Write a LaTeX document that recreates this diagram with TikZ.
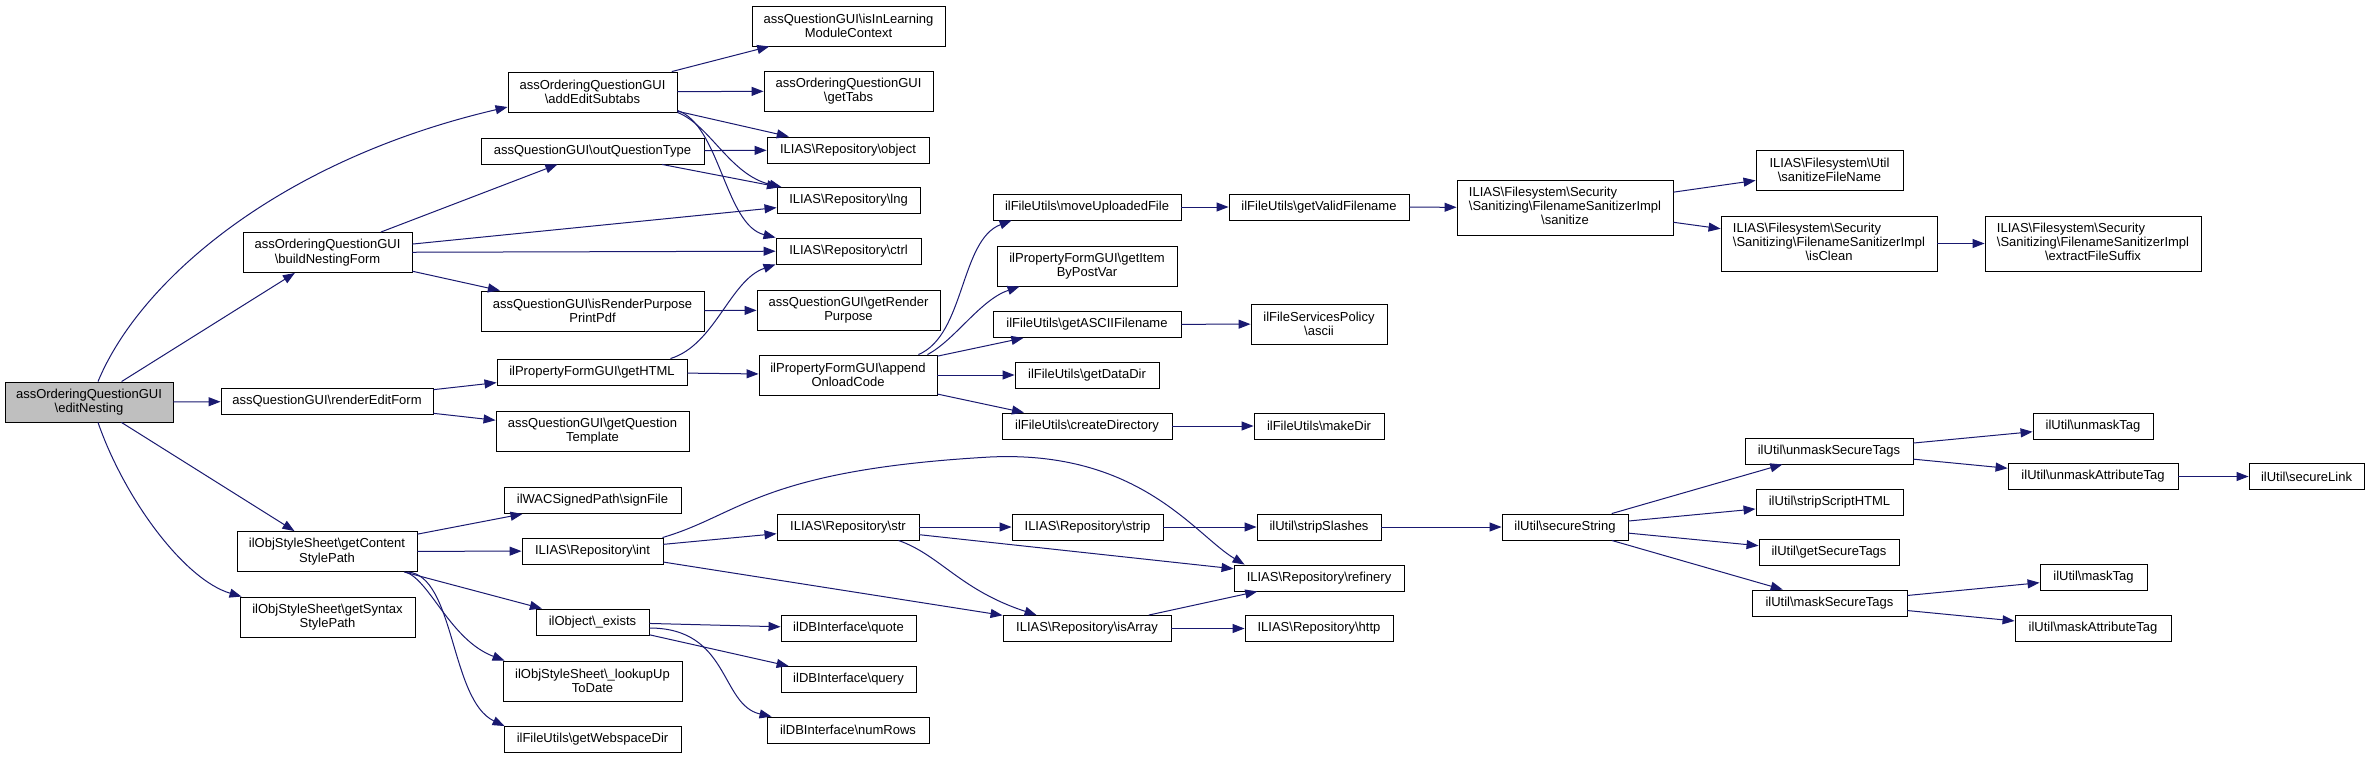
\documentclass[tikz,border=0pt]{standalone}
\usepackage{fontspec}
\setmainfont{Liberation Sans}
\usetikzlibrary{arrows.meta,calc}
\newcommand{\bks}{\textbackslash}
\definecolor{edgeblue}{HTML}{191970}
\begin{document}
\begin{tikzpicture}[x=1pt,y=-1pt,
  fn/.style={draw=black, line width=0.9pt, inner sep=0pt, align=center, fill=white,
    font=\fontsize{13}{14.3}\selectfont},
  wh/.style 2 args={minimum width=#1pt, minimum height=#2pt},
  e/.style={draw=edgeblue, line width=1pt, -{Triangle[length=12pt,width=9pt]}}]
\useasboundingbox[fill=white] (0,0) rectangle (2369,758);
% column 0
\node[fn, fill=gray!50, wh={168}{40}] (en) at (89,402) {assOrderingQuestionGUI\\\bks editNesting};
% column 1
\node[fn, wh={169}{40}] (bnf) at (327.5,252.5) {assOrderingQuestionGUI\\\bks buildNestingForm};
\node[fn, wh={212}{26}] (ref) at (327,401.5) {assQuestionGUI\bks renderEditForm};
\node[fn, wh={180}{40}] (gcsp) at (327,551.5) {ilObjStyleSheet\bks getContent\\StylePath};
\node[fn, wh={175}{40}] (gssp) at (327.5,617) {ilObjStyleSheet\bks getSyntax\\StylePath};
% column 2
\node[fn, wh={169}{40}] (aes) at (592.5,92) {assOrderingQuestionGUI\\\bks addEditSubtabs};
\node[fn, wh={223}{26}] (oqt) at (592.5,151) {assQuestionGUI\bks outQuestionType};
\node[fn, wh={223}{40}] (irp) at (592.5,311) {assQuestionGUI\bks isRenderPurpose\\PrintPdf};
\node[fn, wh={190}{26}] (ghtml) at (592,372) {ilPropertyFormGUI\bks getHTML};
\node[fn, wh={193}{40}] (gqt) at (592.5,431) {assQuestionGUI\bks getQuestion\\Template};
\node[fn, wh={177}{26}] (sf) at (592.5,500.5) {ilWACSignedPath\bks signFile};
\node[fn, wh={141}{26}] (int) at (592.5,551) {ILIAS\bks Repository\bks int};
\node[fn, wh={113}{26}] (ex) at (592.5,622) {ilObject\bks\_exists};
\node[fn, wh={179}{40}] (lut) at (592.5,681) {ilObjStyleSheet\bks\_lookupUp\\ToDate};
\node[fn, wh={177}{26}] (gwd) at (592.5,739.5) {ilFileUtils\bks getWebspaceDir};
% column 3
\node[fn, wh={193}{40}] (ilm) at (848.5,26) {assQuestionGUI\bks isInLearning\\ModuleContext};
\node[fn, wh={169}{40}] (gt) at (848.5,91) {assOrderingQuestionGUI\\\bks getTabs};
\node[fn, wh={162}{26}] (obj) at (848,150) {ILIAS\bks Repository\bks object};
\node[fn, wh={143}{26}] (lng) at (848.5,200.5) {ILIAS\bks Repository\bks lng};
\node[fn, wh={145}{26}] (ctrl) at (848.5,251) {ILIAS\bks Repository\bks ctrl};
\node[fn, wh={183}{40}] (grp) at (848.5,310) {assQuestionGUI\bks getRender\\Purpose};
\node[fn, wh={178}{40}] (aoc) at (848,375) {ilPropertyFormGUI\bks append\\OnloadCode};
\node[fn, wh={142}{26}] (str) at (848,527) {ILIAS\bks Repository\bks str};
\node[fn, wh={135}{26}] (quote) at (848.5,628.5) {ilDBInterface\bks quote};
\node[fn, wh={135}{26}] (query) at (848.5,679.5) {ilDBInterface\bks query};
\node[fn, wh={162}{26}] (nr) at (848,730) {ilDBInterface\bks numRows};
% column 4
\node[fn, wh={188}{26}] (muf) at (1087,207) {ilFileUtils\bks moveUploadedFile};
\node[fn, wh={180}{40}] (gibpv) at (1087,266) {ilPropertyFormGUI\bks getItem\\ByPostVar};
\node[fn, wh={188}{26}] (gaf) at (1087,324.5) {ilFileUtils\bks getASCIIFilename};
\node[fn, wh={144}{26}] (gdd) at (1087,375) {ilFileUtils\bks getDataDir};
\node[fn, wh={170}{26}] (cd) at (1087,426) {ilFileUtils\bks createDirectory};
\node[fn, wh={151}{26}] (strip) at (1087.5,527) {ILIAS\bks Repository\bks strip};
\node[fn, wh={168}{26}] (isarr) at (1087,628.5) {ILIAS\bks Repository\bks isArray};
% column 5
\node[fn, wh={180}{26}] (gvf) at (1319,207) {ilFileUtils\bks getValidFilename};
\node[fn, wh={136}{40}] (ascii) at (1319,324) {ilFileServicesPolicy\\\bks ascii};
\node[fn, wh={130}{26}] (mkd) at (1319,426) {ilFileUtils\bks makeDir};
\node[fn, wh={124}{26}] (ss) at (1319,527) {ilUtil\bks stripSlashes};
\node[fn, wh={170}{26}] (refn) at (1319,578) {ILIAS\bks Repository\bks refinery};
\node[fn, wh={148}{26}] (http) at (1319,628.5) {ILIAS\bks Repository\bks http};
% column 6
\node[fn, wh={216}{55}] (san) at (1565,207.5) {\begin{tabular}{@{}l@{}}ILIAS\bks Filesystem\bks Security\\\bks Sanitizing\bks FilenameSanitizerImpl\\\multicolumn{1}{@{}c@{}}{\bks sanitize}\end{tabular}};
\node[fn, wh={126}{26}] (secs) at (1565,527) {ilUtil\bks secureString};
% column 7
\node[fn, wh={147}{40}] (sfn) at (1829.5,170) {ILIAS\bks Filesystem\bks Util\\\bks sanitizeFileName};
\node[fn, wh={216}{55}] (icl) at (1829,243.5) {\begin{tabular}{@{}l@{}}ILIAS\bks Filesystem\bks Security\\\bks Sanitizing\bks FilenameSanitizerImpl\\\multicolumn{1}{@{}c@{}}{\bks isClean}\end{tabular}};
\node[fn, wh={168}{26}] (ust) at (1829,451) {ilUtil\bks unmaskSecureTags};
\node[fn, wh={147}{26}] (ssh) at (1829.5,502) {ilUtil\bks stripScriptHTML};
\node[fn, wh={140}{26}] (gst) at (1829,552.5) {ilUtil\bks getSecureTags};
\node[fn, wh={155}{26}] (mst) at (1829.5,603) {ilUtil\bks maskSecureTags};
% column 8
\node[fn, wh={216}{55}] (efs) at (2093,243.5) {\begin{tabular}{@{}l@{}}ILIAS\bks Filesystem\bks Security\\\bks Sanitizing\bks FilenameSanitizerImpl\\\multicolumn{1}{@{}c@{}}{\bks extractFileSuffix}\end{tabular}};
\node[fn, wh={120}{26}] (umt) at (2093,426) {ilUtil\bks unmaskTag};
\node[fn, wh={170}{26}] (uat) at (2093,476.5) {ilUtil\bks unmaskAttributeTag};
\node[fn, wh={107}{26}] (mt) at (2093.5,577.5) {ilUtil\bks maskTag};
\node[fn, wh={156}{26}] (mat) at (2093,628.5) {ilUtil\bks maskAttributeTag};
% column 9
\node[fn, wh={115}{26}] (sl) at (2306.5,476.5) {ilUtil\bks secureLink};
% edges
\draw[e] ([xshift=9pt]en.north) .. controls (140,280) and (280,160) .. ([yshift=-15pt]aes.west);
\draw[e] (en) -- (bnf);
\draw[e] (en) -- (ref);
\draw[e] (en) -- (gcsp);
\draw[e] ([xshift=9pt]en.south) .. controls (125,500) and (185,580) .. ([xshift=2pt]gssp.north west);
\draw[e] (aes) -- (ilm);
\draw[e] (aes) -- (gt);
\draw[e] (aes) -- (obj);
\draw[e] (aes.south east) .. controls (710,125) and (730,175) .. ([xshift=5pt]lng.north west);
\draw[e] ([yshift=2pt]aes.south east) .. controls (720,125) and (725,225) .. (ctrl.north west);
\draw[e] (bnf) -- (oqt);
\draw[e] (bnf) -- (lng);
\draw[e] (bnf) -- (ctrl);
\draw[e] (bnf) -- (irp);
\draw[e] (oqt) -- (obj);
\draw[e] (oqt) -- (lng);
\draw[e] (irp) -- (grp);
\draw[e] (ref) -- (ghtml);
\draw[e] (ref) -- (gqt);
\draw[e] ([xshift=-17pt]ghtml.north east) .. controls (715,345) and (730,280) .. (ctrl.south west);
\draw[e] (ghtml) -- (aoc);
\draw[e] ([xshift=-19pt]aoc.north east) .. controls (965,335) and (960,240) .. ([xshift=19pt]muf.south west);
\draw[e] ([xshift=-10pt]aoc.north east) .. controls (955,340) and (980,300) .. ([xshift=23pt]gibpv.south west);
\draw[e] (aoc) -- (gaf);
\draw[e] (aoc) -- (gdd);
\draw[e] (aoc) -- (cd);
\draw[e] (muf) -- (gvf);
\draw[e] (gvf) -- (san);
\draw[e] (san) -- (sfn);
\draw[e] (san) -- (icl);
\draw[e] (icl) -- (efs);
\draw[e] (gaf) -- (ascii);
\draw[e] (cd) -- (mkd);
\draw[e] (gcsp) -- (sf);
\draw[e] (gcsp) -- (int);
\draw[e] (gcsp) -- (ex);
\draw[e] ([xshift=-12pt]gcsp.south east) .. controls (430,580) and (450,640) .. ([xshift=2pt]lut.north west);
\draw[e] ([xshift=-10pt]gcsp.south east) .. controls (455,575) and (450,700) .. ([xshift=1pt]gwd.north west);
\draw[e] (int) -- (str);
\draw[e] ([xshift=-1pt]int.north east) .. controls (740,515) and (760,470) .. (990,457) .. controls (1140,450) and (1195,535) .. ([xshift=11pt]refn.north west);
\draw[e] (int) -- (isarr);
\draw[e] (str) -- (strip);
\draw[e] (str) -- (refn);
\draw[e] ([xshift=-21pt]str.south east) .. controls (940,555) and (960,590) .. ([xshift=34pt]isarr.north west);
\draw[e] (isarr) -- (refn);
\draw[e] (isarr) -- (http);
\draw[e] (strip) -- (ss);
\draw[e] (ss) -- (secs);
\draw[e] (ex) -- (quote);
\draw[e] (ex) -- (query);
\draw[e] ([yshift=-6pt]ex.east) .. controls (730,628) and (720,705) .. ([xshift=5pt]nr.north west);
\draw[e] (secs) -- (ust);
\draw[e] (secs) -- (ssh);
\draw[e] (secs) -- (gst);
\draw[e] (secs) -- (mst);
\draw[e] (ust) -- (umt);
\draw[e] (ust) -- (uat);
\draw[e] (uat) -- (sl);
\draw[e] (mst) -- (mt);
\draw[e] (mst) -- (mat);
\end{tikzpicture}
\end{document}
